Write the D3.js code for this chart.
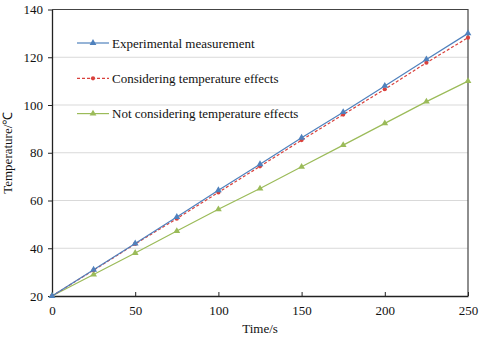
<!DOCTYPE html>
<html>
<head>
<meta charset="utf-8">
<script src="https://cdn.jsdelivr.net/npm/d3@7"></script>
<style>
  body { margin: 0; background: #fff; }
  text { font-family: "Liberation Serif", "Times New Roman", serif; fill: #111; }
</style>
</head>
<body>
<div id="chart"></div>
<script>
// data
const times = [0, 25, 50, 75, 100, 125, 150, 175, 200, 225, 250];
const experimental = [20, 31, 42, 53.1, 64.3, 75.2, 86.3, 97, 108, 119.1, 130];
const consideringTemp = [20, 30.8, 41.8, 52.4, 63.4, 74.3, 85.3, 96, 106.6, 117.7, 128.2];
const notConsideringTemp = [20, 29, 38, 47.2, 56.3, 65, 74.1, 83.2, 92.3, 101.4, 110];
const xTicks = [0, 50, 100, 150, 200, 250];
const yTicks = [20, 40, 60, 80, 100, 120, 140];
const seriesNames = ["Experimental measurement", "Considering temperature effects", "Not considering temperature effects"];

// dimensions
const dims = { width: 480, height: 340, margins: { top: 9.5, bottom: 44, left: 52, right: 12 } };
const w = dims.width - dims.margins.left - dims.margins.right;
const h = dims.height - dims.margins.top - dims.margins.bottom;

const svg = d3.select("#chart").append("svg")
  .attr("width", dims.width)
  .attr("height", dims.height)
  .append("g")
  .attr("transform", "translate(" + dims.margins.left + "," + dims.margins.top + ")");

const x = d3.scaleLinear().domain([0, 250]).range([0, w]);
const y = d3.scaleLinear().domain([20, 140]).range([h, 0]);

// gridlines
svg.append("g")
  .selectAll("line")
  .data(yTicks.filter(d => d > 20 && d < 140))
  .join("line")
  .attr("x1", 0).attr("x2", w)
  .attr("y1", d => y(d)).attr("y2", d => y(d))
  .attr("stroke", "#d9d9d9").attr("stroke-width", 1.2);

// frame top/right
svg.append("path")
  .attr("d", `M0,${y(140)}H${x(250)}V${y(20)}`)
  .attr("fill", "none").attr("stroke", "#444").attr("stroke-width", 1.2);

// axes
const xAx = svg.append("g")
  .attr("transform", "translate(0," + h + ")")
  .call(d3.axisBottom(x).tickValues(xTicks).tickSizeInner(-4).tickSizeOuter(0).tickPadding(10));
const yAx = svg.append("g")
  .call(d3.axisLeft(y).tickValues(yTicks).tickSizeInner(4).tickSizeOuter(0).tickPadding(5));
[xAx, yAx].forEach(a => {
  a.attr("font-family", null);
  a.select(".domain").attr("stroke", "#222").attr("stroke-width", 1.3);
  a.selectAll(".tick line").attr("stroke", "#222");
  a.selectAll("text").style("font-family", '"Liberation Serif", serif').style("font-size", "13px").attr("fill", "#111");
});

// axis labels
svg.append("text")
  .attr("x", w / 2).attr("y", h + 37)
  .attr("text-anchor", "middle").style("font-size", "13px")
  .text("Time/s");
svg.append("text")
  .attr("transform", "rotate(-90)")
  .attr("x", -h / 2).attr("y", -40)
  .attr("text-anchor", "middle").style("font-size", "13px")
  .text("Temperature/℃");

// series
const series = [
  { name: seriesNames[0], values: experimental, color: "#4f81bd", dash: null, marker: "triangle" },
  { name: seriesNames[1], values: consideringTemp, color: "#d9413c", dash: "3,2", marker: "circle" },
  { name: seriesNames[2], values: notConsideringTemp, color: "#9bbb59", dash: null, marker: "triangle" }
];

const line = d3.line().x((d, i) => x(times[i])).y(d => y(d));
const sym = m => d3.symbol().type(m === "triangle" ? d3.symbolTriangle : d3.symbolCircle).size(m === "triangle" ? 20 : 14);

// draw in reverse order so experimental sits on top
series.slice().reverse().forEach(s => {
  svg.append("path")
    .datum(s.values)
    .attr("d", line)
    .attr("fill", "none")
    .attr("stroke", s.color)
    .attr("stroke-width", 1.2)
    .attr("stroke-dasharray", s.dash);
  svg.append("g")
    .selectAll("path")
    .data(s.values)
    .join("path")
    .attr("transform", (d, i) => "translate(" + x(times[i]) + "," + y(d) + ")")
    .attr("d", sym(s.marker)())
    .attr("fill", s.color);
});

// legend
const legend = svg.append("g").attr("transform", "translate(25,33.5)");
series.forEach((s, i) => {
  const g = legend.append("g").attr("transform", "translate(0," + i * 35.3 + ")");
  g.append("line")
    .attr("x1", 0).attr("x2", 32)
    .attr("stroke", s.color).attr("stroke-width", 1.2)
    .attr("stroke-dasharray", s.dash);
  g.append("path")
    .attr("transform", "translate(16,0)")
    .attr("d", sym(s.marker)())
    .attr("fill", s.color);
  g.append("text")
    .attr("x", 35).attr("dy", "0.35em")
    .style("font-size", "13px")
    .style("font-family", '"Liberation Serif", serif')
    .text(s.name);
});
</script>
</body>
</html>
